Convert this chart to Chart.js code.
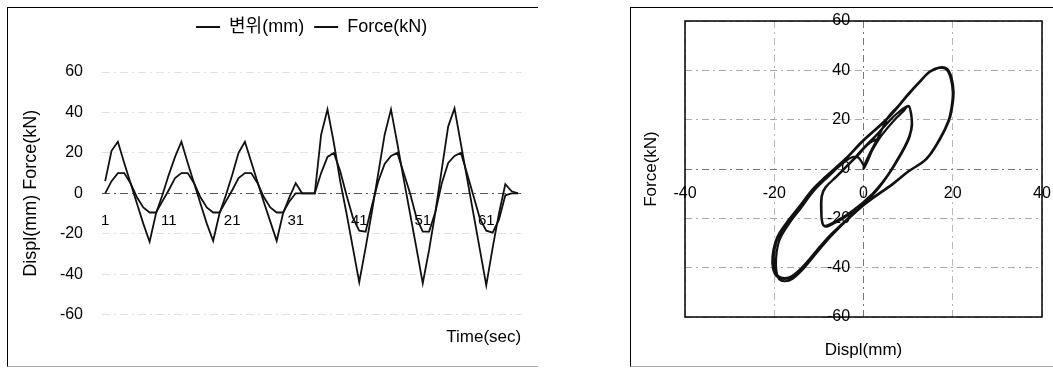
<!DOCTYPE html>
<html>
<head>
<meta charset="utf-8">
<script src="https://cdn.jsdelivr.net/npm/chart.js@4"></script>
<style>
  body { margin: 0; background: #fff; width: 1053px; height: 369px; position: relative; overflow: hidden; }
  .panel { position: absolute; top: 7px; height: 358px; border-left: 1px solid #000; border-top: 1px solid #000; border-bottom: 1px solid #aaa; }
  #p1 { left: 7px; width: 530px; }
  #p2 { left: 630px; width: 423px; }
  canvas { position: absolute; left: 0; top: 0; }
</style>
</head>
<body>
<div class="panel" id="p1"><canvas id="timeChart" width="522" height="357"></canvas></div>
<div class="panel" id="p2"><canvas id="loopChart" width="421" height="357"></canvas></div>
<script>
// time history (left)
const times = [1, 2, 3, 4, 5, 6, 7, 8, 9, 10, 11, 12, 13, 14, 15, 16, 17, 18, 19, 20,
  21, 22, 23, 24, 25, 26, 27, 28, 29, 30, 31, 32, 33, 34, 35, 36, 37, 38, 39, 40,
  41, 42, 43, 44, 45, 46, 47, 48, 49, 50, 51, 52, 53, 54, 55, 56, 57, 58, 59, 60,
  61, 62, 63, 64, 65, 66];
const timeTicks = [1, 11, 21, 31, 41, 51, 61];
const displ = [0, 6, 10, 10, 5, -2, -7, -9.5, -9.5, -4,
  1.5, 7.5, 10, 10, 5, -2, -7, -9.5, -9.5, -4,
  1.5, 7.5, 10, 10, 5, -2, -7, -9.5, -9.5, -4,
  0, 0, 0, 0, 10, 18, 20, 11, -1, -12,
  -18.5, -19, -6, 6, 14.5, 18.5, 20, 10, 0, -12,
  -19, -19, -9, 5, 15, 18.5, 20, 9.5, -1.5, -12.5,
  -18.5, -19.5, -13, -1, 0, 0];
const force = [6, 21, 25.5, 15, 5, -5, -15, -24, -10, -1,
  9, 18, 25.5, 15, 5, -5, -15, -23.5, -10, -1,
  9, 20, 25.5, 15.5, 5.5, -4.5, -14, -23.5, -10, -2,
  5, 0, 0, 0, 29, 41.5, 25, 6, -10, -27,
  -44, -27, -9, 10, 29, 41.5, 24.5, 7, -10, -27,
  -44.5, -28, -9, 12, 33, 42, 24.5, 7, -10.5, -28,
  -45.5, -27, -10, 4.5, 1, 0];

// hysteresis loop (right): displacement / force pairs
const displLoop = [
  0, 1.5, 4, 7, 9, 10,
  10.7, 10.8, 10.3, 9.2, 7.3, 5, 2, -2.5, -6, -8.5, -9.2, -9.4, -9.3, -8.5, -6, -3, 0, 3, 5.5, 7.5, 10,
  10.6, 10.8, 10.4, 9.3, 7.4, 5.1, 2.2, -2.3, -5.8, -8.4, -9.1, -9.5, -9.4, -8.6, -6.1, -3.1, 0.1, 3.1, 5.6, 7.6, 10.1,
  10.6, 10.9, 10.4, 9.3, 7.4, 5.1, 2.1, -2.4, -5.9, -8.4, -9.2, -9.5, -9.4, -8.6, -6, -3.5, -1, 1, 2.8, 1.6, 0.4, 0,
  1, 2.5, 4, 5.5, 7.5, 10, 12.5, 14.8, 16.5,
  17, 18.5, 19.5, 20, 19.7, 19, 17, 14, 10, 6.5, 0, -7, -10.5, -13.6, -16, -17.6, -19.1, -19.9, -20.1, -19.6,
  -18.6, -16.6, -14.3, -11.4, -8.4, -4, 0, 4, 6.5, 10.3, 13, 14.8, 17,
  18.6, 19.6, 20.1, 19.8, 19.1, 17.1, 14.1, 10.1, 6.6, 0.1, -6.9, -10.4, -13.5, -16.1, -17.8, -19.4, -20.3, -20.4, -19.8, -18.8,
  -16.8, -14.4, -11.5, -8.5, -4.1, -0.1, 3.9, 6.4, 10.2, 12.9, 14.8, 17.1,
  18.7, 19.7, 20.2, 19.9, 19.2, 17.2, 14.2, 10.2, 6.7, 0.2, -6.8, -10.3, -13.4, -15.9, -17.6, -18.9, -19.5, -19.6, -19.2, -18.3,
  -16.4, -14.1, -11.2, -8.2, -3.8, -1.5, 0, 0];
const forceLoop = [
  0, 6, 13.5, 20, 23.5, 25.5,
  22.5, 18, 13.5, 9, 3, -3.5, -10, -17, -21, -23, -22, -17, -11, -7.5, -3, 2.5, 8.5, 14, 19, 22.5, 25.5,
  22.8, 18.2, 13.4, 8.8, 2.8, -3.6, -10.2, -17.2, -21.3, -23.2, -22.3, -17.2, -11, -7.6, -3.1, 2.4, 8.4, 14.1, 19.1, 22.6, 25.6,
  22.6, 18.1, 13.6, 9, 2.9, -3.5, -10, -17, -21.2, -23.4, -22.2, -17.2, -11.2, -7.6, -3, 1.5, 6, 10, 11.8, 7, 2.5, 0,
  3.5, 10, 15.5, 21, 25, 30, 35.2, 39.3, 40.8,
  41, 40.5, 37, 31, 25, 19.5, 12, 4, -1, -6, -14.5, -26, -33, -39.5, -43.3, -44.2, -43.4, -40, -35.5, -30,
  -26, -20.7, -15.3, -8.5, -3.2, 4, 11.5, 18, 22.5, 30.7, 36, 39.4, 41,
  40.6, 37.2, 31.2, 25.1, 19.6, 12.1, 4.1, -1, -6.1, -14.6, -26.2, -33.3, -39.9, -43.8, -44.6, -43.6, -40.2, -35.4, -29.8, -25.8,
  -20.6, -15.2, -8.4, -3.1, 4.1, 11.6, 18.1, 22.6, 30.8, 36.1, 39.5, 41.2,
  40.7, 37.3, 31.3, 25.2, 19.7, 12.2, 4.2, -0.9, -6, -14.5, -26.3, -33.6, -40.3, -44.5, -45.5, -44.7, -41.5, -36.5, -31, -26.8,
  -21.4, -16, -9, -3.6, 3.5, 5, 1.5, 0];

Chart.defaults.font.family = "'Liberation Sans', 'Noto Sans CJK KR', Arial, sans-serif";
Chart.defaults.color = '#000';

// push the plot down below the legend
const legendGap = {
  id: 'legendGap',
  beforeInit(chart) {
    const fit = chart.legend.fit;
    chart.legend.fit = function () {
      fit.call(this);
      this.height += 26;
    };
  }
};

const plotBox = {
  id: 'plotBox',
  afterDatasetsDraw(chart) {
    const { ctx, chartArea: a } = chart;
    ctx.save();
    ctx.strokeStyle = '#000';
    ctx.lineWidth = 1.5;
    ctx.strokeRect(a.left, a.top, a.width, a.height);
    ctx.restore();
  }
};

const zeroGrid = (dark, light) => (c) => (c.tick && c.tick.value === 0 ? dark : light);

new Chart(document.getElementById('timeChart'), {
  type: 'line',
  data: {
    labels: times,
    datasets: [
      { label: '변위(mm)', data: displ, borderColor: '#111', backgroundColor: '#111', borderWidth: 1.8, pointRadius: 0 },
      { label: 'Force(kN)', data: force, borderColor: '#111', backgroundColor: '#111', borderWidth: 1.8, pointRadius: 0 }
    ]
  },
  options: {
    responsive: false,
    animation: false,
    layout: { padding: { left: 0, right: 8.8, top: 0, bottom: 7 } },
    plugins: {
      legend: {
        position: 'top',
        fullSize: false,
        labels: { usePointStyle: true, pointStyle: 'line', pointStyleWidth: 24, padding: 10, color: '#000', font: { size: 18 } }
      },
      title: {
        display: true, text: 'Time(sec)', position: 'bottom', align: 'end', fullSize: false,
        padding: { top: 13, bottom: 10 }, font: { size: 17, weight: 'normal' }, color: '#000'
      },
      tooltip: { enabled: false }
    },
    scales: {
      x: {
        type: 'category',
        offset: true,
        position: { y: 0 },
        // invisible tick marks give the label gap without shrinking the plot
        grid: { display: true, drawOnChartArea: false, drawTicks: true, tickLength: 19, tickColor: 'rgba(0,0,0,0)' },
        border: { display: false },
        ticks: {
          autoSkip: false, maxRotation: 0, padding: 0, font: { size: 15 },
          callback(v, i) { return timeTicks.includes(times[i]) ? String(times[i]) : ''; }
        }
      },
      y: {
        min: -60, max: 60,
        position: 'left',
        afterFit(s) { s.width = 94; },
        ticks: { stepSize: 20, padding: 19, font: { size: 16 } },
        grid: { drawTicks: false, lineWidth: 1, color: zeroGrid('#555', '#e0e0e0') },
        border: { display: false, dash: [8, 4, 2, 4] },
        title: { display: true, text: 'Displ(mm) Force(kN)', font: { size: 18 }, padding: { top: 12, bottom: 0 } }
      }
    }
  },
  plugins: [legendGap]
});

new Chart(document.getElementById('loopChart'), {
  type: 'scatter',
  data: {
    datasets: [{
      data: displLoop.map((d, i) => ({ x: d, y: forceLoop[i] })),
      showLine: true, borderColor: '#111', borderWidth: 2.2, pointRadius: 0, tension: 0.35,
      xAxisID: 'x', yAxisID: 'y'
    }]
  },
  options: {
    responsive: false,
    animation: false,
    layout: { padding: { top: 13, right: 10, left: 0, bottom: 0 } },
    plugins: { legend: { display: false }, tooltip: { enabled: false } },
    scales: {
      x: {
        type: 'linear', min: -40, max: 40, position: { y: 0 },
        // label gap comes from an invisible tick mark so it does not eat into the plot width
        ticks: { stepSize: 20, padding: 0, font: { size: 16 } },
        grid: { drawTicks: true, tickLength: 15, tickColor: 'rgba(0,0,0,0)', color: zeroGrid('#777', '#b8b8b8') },
        border: { display: false, dash: [7, 4, 2, 4] }
      },
      y: {
        type: 'linear', min: -60, max: 60, position: { x: 0 },
        ticks: { stepSize: 20, padding: 0, font: { size: 16 }, callback: (v) => v + '   ' },
        grid: { drawTicks: false, color: zeroGrid('#777', '#aaa') },
        border: { display: false, dash: [7, 4, 2, 4] }
      },
      xt: {
        type: 'linear', axis: 'x', position: 'bottom',
        afterFit(s) { s.height = 48; },
        ticks: { display: false }, grid: { display: false }, border: { display: false },
        title: { display: true, text: 'Displ(mm)', font: { size: 17 }, padding: { top: 0, bottom: 4 } }
      },
      yt: {
        type: 'linear', axis: 'y', position: 'left',
        afterFit(s) { s.width = 54; },
        ticks: { display: false }, grid: { display: false }, border: { display: false },
        title: { display: true, text: 'Force(kN)', font: { size: 17 }, padding: { top: 10, bottom: 0 } }
      }
    }
  },
  plugins: [plotBox]
});
</script>
</body>
</html>
